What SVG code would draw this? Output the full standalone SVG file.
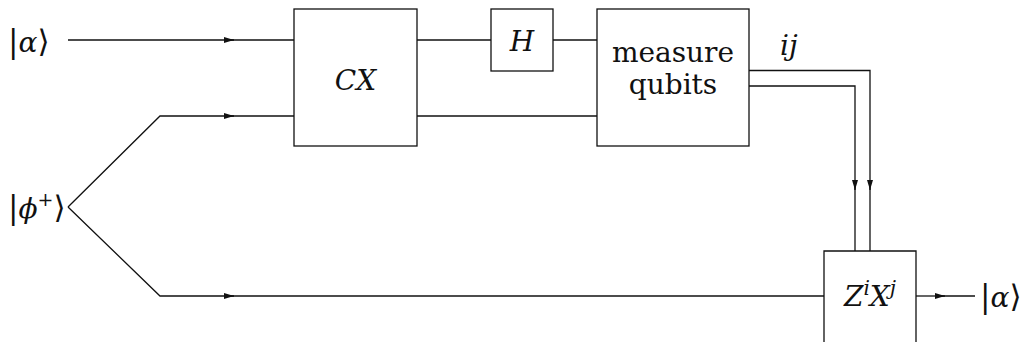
<svg xmlns="http://www.w3.org/2000/svg" width="1026" height="342" viewBox="0 0 1026 342">
<style>
.w{fill:none;stroke:#111;stroke-width:1.3}
.b{fill:#fff;stroke:#111;stroke-width:1.3}
text{font-family:'DejaVu Serif',serif;font-size:28px;fill:#111}
.m{font-style:italic}
.k{font-size:31px}
</style>
<defs>
<marker id="ar" viewBox="0 0 10 6" refX="10" refY="3" markerWidth="10" markerHeight="6" markerUnits="userSpaceOnUse" orient="auto">
<path d="M0,0 L10,3 L0,6 Z" fill="#111"/>
</marker>
</defs>
<g id="connectors">
<path class="w" d="M68,40 H234" marker-end="url(#ar)"/>
<path class="w" d="M230,40 H294"/>
<path class="w" d="M68,207 L160,116 H234" marker-end="url(#ar)"/>
<path class="w" d="M230,116 H294"/>
<path class="w" d="M68,207 L160,296 H234" marker-end="url(#ar)"/>
<path class="w" d="M230,296 H824"/>
<path class="w" d="M417,40 H491"/>
<path class="w" d="M553,40 H597"/>
<path class="w" d="M417,116 H597"/>
<path class="w" d="M749,70.5 H870 V190" marker-end="url(#ar)"/>
<path class="w" d="M749,86 H855 V190" marker-end="url(#ar)"/>
<path class="w" d="M870,186 V251"/>
<path class="w" d="M855,186 V251"/>
<path class="w" d="M916,296 H945" marker-end="url(#ar)"/>
<path class="w" d="M941,296 H975"/>
</g>
<g id="alpha-in"><text class="k" x="8" y="52">|<tspan class="m" font-size="28">α</tspan>⟩</text></g>
<g id="phi-plus"><text class="k" x="8" y="218">|<tspan class="m" font-size="28">ϕ</tspan><tspan font-size="19" dy="-12">+</tspan><tspan dy="12">⟩</tspan></text></g>
<g id="cx"><rect class="b" x="294" y="9" width="123" height="137"/><text class="m" x="355.5" y="90" text-anchor="middle" font-size="30">CX</text></g>
<g id="h"><rect class="b" x="491" y="9" width="62" height="62"/><text class="m" x="522" y="51" text-anchor="middle" font-size="30">H</text></g>
<g id="measure"><rect class="b" x="597" y="9" width="152" height="137"/><text x="673" y="62" text-anchor="middle" font-size="22">measure</text><text x="673" y="94" text-anchor="middle" font-size="22">qubits</text></g>
<g id="ij-label"><text class="m" x="780" y="55">ij</text></g>
<g id="zx"><path class="b" d="M824,345 V251 H916 V345"/><text class="m" x="870" y="306" text-anchor="middle">Z<tspan font-size="20" dy="-11">i</tspan><tspan dy="11">X</tspan><tspan font-size="20" dy="-11">j</tspan></text></g>
<g id="alpha-out"><text class="k" x="980" y="307">|<tspan class="m" font-size="28">α</tspan>⟩</text></g>
</svg>
